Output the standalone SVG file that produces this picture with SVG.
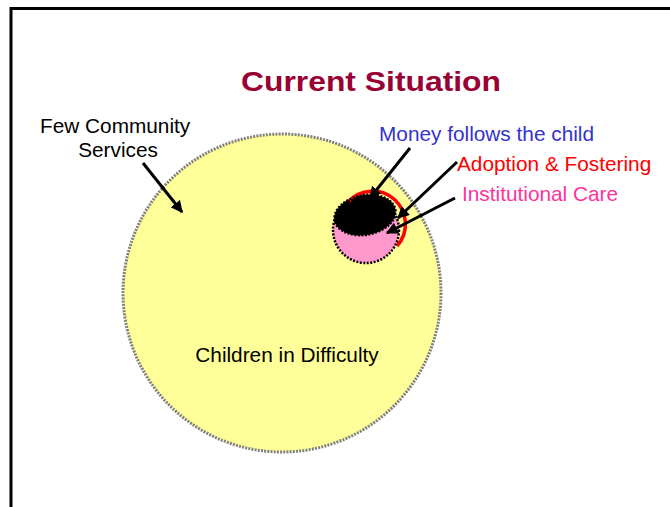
<svg xmlns="http://www.w3.org/2000/svg" width="670" height="507" viewBox="0 0 670 507">
<style>
text{font-family:"Liberation Sans",Arial,sans-serif;font-size:20.8px}
.title{font-size:28px;font-weight:bold;fill:#990033}
.conn line{stroke:#000;stroke-width:3}
</style>
<defs>
<marker id="ah" viewBox="0 0 10 10" refX="9" refY="5" markerWidth="4" markerHeight="4" orient="auto" markerUnits="strokeWidth">
<path d="M0,0 L10,5 L0,10 z" fill="#000"/>
</marker>
</defs>
<rect width="670" height="507" fill="#fff"/>
<path d="M11,507 V8.5 H670" fill="none" stroke="#000" stroke-width="3"/>
<text class="title" x="241" y="91" textLength="260" lengthAdjust="spacingAndGlyphs">Current Situation</text>
<g id="children">
<circle cx="282" cy="293" r="159" fill="#ffff99" stroke="#808080" stroke-width="3" stroke-dasharray="2 1.2"/>
<text x="287" y="362" text-anchor="middle">Children in Difficulty</text>
</g>
<g id="institutional">
<circle cx="366" cy="230" r="33" fill="#ff99cc"/>
<ellipse cx="365" cy="215" rx="31" ry="20" transform="rotate(-10 365 215)" fill="#000"/>
<path d="M348,202 A32,32 0 0 1 397,246" fill="none" stroke="#ff0000" stroke-width="3.5"/>
<circle cx="366" cy="230" r="33" fill="none" stroke="#000" stroke-width="2.5" stroke-dasharray="2 1.5"/>
<ellipse cx="365" cy="215" rx="31" ry="20" transform="rotate(-10 365 215)" fill="none" stroke="#000" stroke-width="2" stroke-dasharray="2 1.5"/>
</g>
<g id="few-community">
<text x="40" y="133">Few Community</text>
<text x="118" y="157" text-anchor="middle">Services</text>
</g>
<g id="money">
<text x="379" y="141" fill="#3333cc">Money follows the child</text>
</g>
<g id="adoption">
<text x="457" y="171" fill="#ff0000">Adoption &amp; Fostering</text>
</g>
<g id="care">
<text x="462" y="201" fill="#ff3399">Institutional Care</text>
</g>
<g class="conn">
<line x1="143" y1="163" x2="182" y2="212" marker-end="url(#ah)"/>
<line x1="410" y1="148" x2="370" y2="198" marker-end="url(#ah)"/>
<line x1="457" y1="162" x2="398" y2="218" marker-end="url(#ah)"/>
<line x1="455" y1="198" x2="387" y2="233" marker-end="url(#ah)"/>
</g>
</svg>
